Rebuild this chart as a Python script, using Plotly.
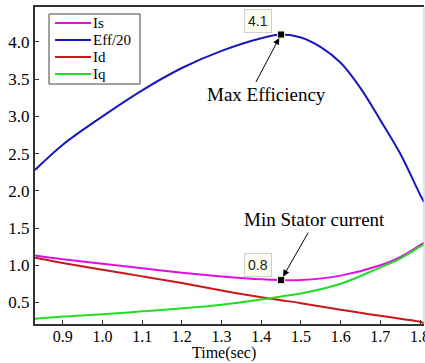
import plotly.graph_objects as go

# Data
t_eff = [0.83, 0.9, 1.0, 1.1, 1.2, 1.3, 1.4, 1.45, 1.5, 1.55, 1.6, 1.65, 1.7, 1.75, 1.8, 1.81]
eff20 = [2.28, 2.62, 3.0, 3.35, 3.65, 3.88, 4.05, 4.1, 4.06, 3.93, 3.72, 3.38, 2.95, 2.5, 1.95, 1.85]

t_cur = [0.83, 0.9, 1.0, 1.1, 1.2, 1.3, 1.4, 1.45, 1.5, 1.6, 1.7, 1.75, 1.8, 1.81]
i_s = [1.13, 1.08, 1.02, 0.96, 0.90, 0.85, 0.81, 0.80, 0.80, 0.86, 1.0, 1.11, 1.27, 1.3]
i_d = [1.10, 1.03, 0.94, 0.85, 0.76, 0.66, 0.57, 0.53, 0.49, 0.40, 0.32, 0.28, 0.24, 0.22]
i_q = [0.28, 0.31, 0.34, 0.38, 0.42, 0.47, 0.54, 0.58, 0.62, 0.75, 0.97, 1.09, 1.25, 1.28]

series_names = ["Is", "Eff/20", "Id", "Iq"]
series_colors = ["#e010e0", "#1818c0", "#c81818", "#22dd22"]

markers_t = [1.45, 1.45]
markers_y = [4.1, 0.8]
marker_labels = ["4.1", "0.8"]

x_ticks = [0.9, 1.0, 1.1, 1.2, 1.3, 1.4, 1.5, 1.6, 1.7, 1.8]
y_ticks = [0.5, 1.0, 1.5, 2.0, 2.5, 3.0, 3.5, 4.0]

serif = "Liberation Serif, Times New Roman, serif"
W, H = 425, 363
ML, MR, MT, MB = 35, 1, 7, 39
PW, PH = W - ML - MR, H - MT - MB


def px(xp):
    return (xp - ML) / PW


def py(yp):
    return 1 - (yp - MT) / PH


fig = go.Figure()
for xs, ys, nm, col in zip([t_cur, t_eff, t_cur, t_cur], [i_s, eff20, i_d, i_q], series_names, series_colors):
    fig.add_trace(go.Scatter(x=xs, y=ys, mode="lines", name=nm, showlegend=False,
                             line=dict(color=col, width=2, shape="spline")))
fig.add_trace(go.Scatter(x=markers_t, y=markers_y, mode="markers", showlegend=False,
                         marker=dict(symbol="square", size=7, color="black",
                                     line=dict(color="#f0f0c0", width=1))))

# Data tip boxes
for ty, lab in zip(markers_y, marker_labels):
    fig.add_annotation(x=1.45, y=ty, xref="x", yref="y", text=lab, showarrow=False,
                       xshift=-23, yshift=14 if ty > 2 else 15,
                       font=dict(family="Liberation Sans", size=14, color="#222"),
                       bgcolor="#fbfbee", bordercolor="#cfcfcf", borderwidth=1, borderpad=3)

# Arrows
fig.add_annotation(x=1.45, y=4.1, ax=-26, ay=49, text="", showarrow=True,
                   arrowhead=2, arrowsize=1.3, arrowwidth=1, arrowcolor="black", standoff=4)
fig.add_annotation(x=1.45, y=0.8, ax=28, ay=-49, text="", showarrow=True,
                   arrowhead=2, arrowsize=1.3, arrowwidth=1, arrowcolor="black", standoff=4)

fig.add_annotation(x=1.412, y=3.30, text="Max Efficiency", showarrow=False,
                   font=dict(family=serif, size=19, color="black"))
fig.add_annotation(x=1.535, y=1.61, text="Min Stator current", showarrow=False,
                   font=dict(family=serif, size=19, color="black"))

# Manual legend (box, line samples, labels)
fig.add_shape(type="rect", xref="paper", yref="paper", x0=px(49), x1=px(140), y0=py(84), y1=py(14),
              line=dict(color="#444", width=1), fillcolor="white", layer="above")
leg_y = [23, 40, 57, 74]
for yy, nm, col in zip(leg_y, series_names, series_colors):
    fig.add_shape(type="line", xref="paper", yref="paper", x0=px(55), x1=px(91), y0=py(yy), y1=py(yy),
                  line=dict(color=col, width=2), layer="above")
    fig.add_annotation(xref="paper", yref="paper", x=px(92), y=py(yy), text=nm, showarrow=False,
                       xanchor="left", yanchor="middle", borderpad=0,
                       font=dict(family=serif, size=15, color="black"))

# Right edge light line
fig.add_shape(type="line", xref="paper", yref="paper", x0=1, x1=1, y0=0, y1=1,
              line=dict(color="#c8c8c8", width=1))

# Axis title
fig.add_annotation(xref="paper", yref="paper", x=px(224), y=py(353), text="Time(sec)", showarrow=False,
                   xanchor="center", yanchor="middle", borderpad=0,
                   font=dict(family=serif, size=16, color="black"))

fig.update_layout(
    width=W, height=H,
    margin=dict(l=ML, r=MR, t=MT, b=MB),
    paper_bgcolor="white", plot_bgcolor="white",
    font=dict(family=serif, size=18, color="black"),
    showlegend=False,
)
fig.update_xaxes(range=[0.83, 1.81], tickvals=x_ticks, ticktext=[f"{v:.1f}" for v in x_ticks],
                 ticks="inside", ticklen=4, tickcolor="#333", showgrid=False, zeroline=False,
                 showline=True, linecolor="#333", linewidth=2, mirror=True,
                 ticklabeloverflow="allow", automargin=False, ticklabelstandoff=-3,
                 tickfont=dict(family=serif, size=16))
fig.update_yaxes(range=[0.21, 4.47], tickvals=y_ticks, ticktext=[f"{v:.1f}" for v in y_ticks],
                 ticks="inside", ticklen=4, tickcolor="#333", showgrid=False, zeroline=False,
                 showline=True, linecolor="#333", linewidth=2, mirror=False, automargin=False,
                 tickfont=dict(family=serif, size=17))

fig.write_html("out.html")
